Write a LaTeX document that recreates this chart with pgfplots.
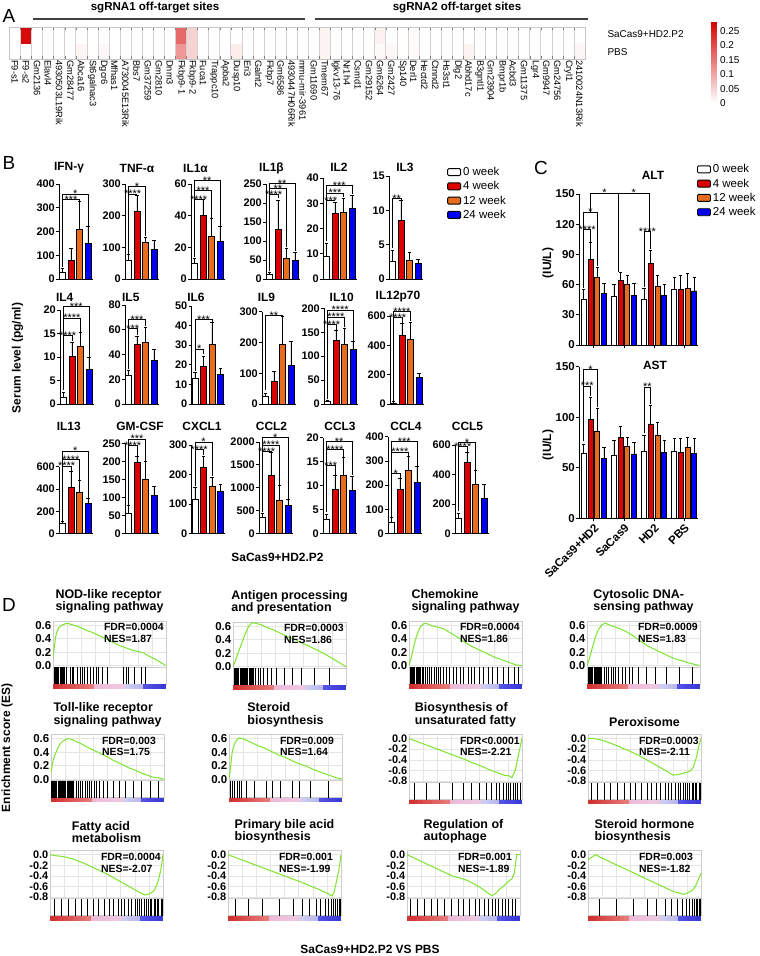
\documentclass[border=0pt]{standalone}
\usepackage{fontspec}
\setmainfont{Liberation Sans}
\usepackage{pgfplots}
\usepackage{pgfplotstable}
\pgfplotsset{compat=1.18}
\definecolor{cR}{RGB}{220,0,0}
\definecolor{cO}{RGB}{232,108,32}
\definecolor{cB}{RGB}{0,0,245}
\definecolor{cG}{RGB}{125,228,45}
\newcommand\fs[1]{\fontsize{#1}{#1}\selectfont}
\pgfplotsset{
 every axis/.append style={/pgf/number format/assume math mode=true,/pgf/number format/set thousands separator={}},
 colormap={rwb}{rgb255(0cm)=(208,45,45) rgb255(3.6cm)=(232,125,125) rgb255(3.8cm)=(236,186,214) rgb255(6.2cm)=(238,200,225) rgb255(6.4cm)=(208,208,242) rgb255(8cm)=(182,182,238) rgb255(8.2cm)=(82,82,228) rgb255(10cm)=(55,55,215)},
 lgimg/.style={legend image code/.code={\draw[##1,line width=0.9bp,rounded corners=1.2bp] (0bp,-3.5bp) rectangle (13bp,3.5bp);}},
 sW/.style={fill=white,draw=black,line width=0.7bp,lgimg},
 sR/.style={fill=cR,draw=black,line width=0.7bp,lgimg},
 sO/.style={fill=cO,draw=black,line width=0.7bp,lgimg},
 sB/.style={fill=cB,draw=black,line width=0.7bp,lgimg},
 errs/.style={error bars/y dir=plus, error bars/y explicit,
   error bars/error bar style={line width=0.7bp,black},
   error bars/error mark options={black,line width=0.7bp,mark size=1.6bp,rotate=90}},
 bax/.style={scale only axis, width=34bp, anchor=south west, ybar, bar width=6bp, bar shift=0pt,
   xmin=-0.41, xmax=3.59, ymin=0, axis x line*=bottom, axis y line*=left,
   axis line style={line width=1bp,-}, xtick=\empty, tick align=outside,
   major tick length=3bp, tick style={black,line width=0.8bp},
   yticklabel style={font=\bfseries\fs{11},inner sep=1bp},
   scaled y ticks=false, clip=false, errs},
 cax/.style={scale only axis, width=119bp, anchor=south west, ybar, bar width=5bp, bar shift=0pt,
   xmin=0, xmax=119, ymin=0, ymax=150, axis x line*=bottom, axis y line*=left,
   axis line style={line width=1bp,-}, xtick={14.85,44.95,75.05,105.15}, tick align=outside,
   major tick length=3bp, tick style={black,line width=0.8bp},
   yticklabel style={font=\bfseries\fs{11.5},inner sep=1bp},
   scaled y ticks=false, clip=false, errs},
 gES/.style={scale only axis, width=113bp, anchor=north west, xmin=0, xmax=100,
   xtick={0,12.5,...,100}, xticklabels={}, major tick length=0pt, grid=major,
   grid style={gray!20,line width=0.4bp}, axis line style={gray!40,line width=0.5bp},
   /pgf/number format/fixed, /pgf/number format/fixed zerofill, /pgf/number format/precision=1,
   yticklabel style={font=\bfseries\fs{11.5},inner sep=1.5bp},
   title style={font=\bfseries\fontsize{12.5}{12.3}\selectfont, align=left, anchor=south, at={(0.5,1)}, inner sep=1.5bp}},
 gpos/.style={height=46bp, ymin=-0.02, ymax=0.66, ytick={0,0.2,0.4,0.6}},
 gneg/.style={height=48bp, ymin=-0.83, ymax=0.075, ytick={-0.8,-0.6,-0.4,-0.2,0}, yticklabel style={font=\bfseries\fs{11}}},
 gHit/.style={scale only axis, width=113bp, height=17bp, anchor=north west, xmin=0, xmax=100, ymin=0, ymax=1,
   xtick=\empty, ytick=\empty, axis line style={gray!40,line width=0.5bp}, clip=false,
   colormap name=rwb, point meta min=0, point meta max=100},
}
\tikzset{ttl/.style={font=\bfseries\fs{12},inner sep=0pt},
 gtxt/.style={anchor=north west, align=left, font=\bfseries\fontsize{10.5}{11.5}\selectfont, inner sep=0pt}}
\newcommand\bb[8]{%
 \addplot[sW] coordinates {(0,#1) +- (0,#2)};
 \addplot[sR] coordinates {(1,#3) +- (0,#4)};
 \addplot[sO] coordinates {(2,#5) +- (0,#6)};
 \addplot[sB] coordinates {(3,#7) +- (0,#8)};}
\newcommand\br[5]{%
 \draw[line width=0.8bp] (axis cs:0,#3) -- (axis cs:0,#2) -- (axis cs:#1,#2) -- (axis cs:#1,#4);
 \node[font=\fs{11}, inner sep=0pt] at (axis cs:#1*0.5,#2) {#5};}
\newcommand\cbr[6]{%
 \draw[line width=0.8bp] (axis cs:#1,#4) -- (axis cs:#1,#3) -- (axis cs:#2,#3) -- (axis cs:#2,#5);
 \node[font=\fs{11}, inner sep=0pt] at (axis cs:#1*0.5+#2*0.5,#3) {#6};}
\pgfplotstableread{
x y
0 -0.15
4 -0.15
8 -0.15
12 -0.15
16 -0.15
20 -0.15
24 -0.15
28 -0.15
32 -0.15
36 -0.15
40 -0.15
44 -0.15
48 -0.15
52 -0.15
56 -0.15
60 -0.15
64 -0.15
68 -0.15
72 -0.15
76 -0.15
80 -0.15
84 -0.15
88 -0.15
92 -0.15
96 -0.15
100 -0.15
}\cbt
\newcommand\gsea[7]{%
\begin{axis}[gES,#5,name=es,at={(#1bp,-#2bp)},title={#3}]
\addplot[cG,line width=1bp] coordinates {#6};
\node[gtxt] at (rel axis cs:0.45,0.95) {#4};
\end{axis}
\begin{axis}[gHit,at={(es.south west)}]
\addplot[ycomb,black,line width=0.45bp,mark=none] coordinates {#7};
\addplot[mesh,point meta=x,line width=4.5bp] table {\cbt};
\end{axis}}
\begin{document}
\begin{tikzpicture}
\path[use as bounding box] (0,0) rectangle (760bp,-956bp);
% panel letters
\node[font=\fs{19}] at (9bp,-15.5bp) {A};
\node[font=\fs{19}] at (9bp,-163bp) {B};
\node[font=\fs{19}] at (541bp,-168bp) {C};
\node[font=\fs{19}] at (9bp,-605bp) {D};
% ---------- A ----------
\node[font=\bfseries\fs{11.6}] at (155bp,-7.5bp) {sgRNA1 off-target sites};
\node[font=\bfseries\fs{11.6}] at (457bp,-7.5bp) {sgRNA2 off-target sites};
\draw[line width=1.3bp,black!75] (33bp,-19bp) -- (305bp,-19bp);
\draw[line width=1.3bp,black!75] (315bp,-19bp) -- (588bp,-19bp);
\begin{axis}[scale only axis, width=575.7bp, height=32bp, at={(9.3bp,-59bp)}, anchor=south west,
 xmin=-0.5, xmax=51.5, ymin=-0.5, ymax=1.5, ytick=\empty, xtick={0,...,51}, major tick length=0pt,
 xticklabels={F9-s1,F9-s2,Gm2136,Elavl4,4930503L19Rik,Gm28477,Abca16,St6galnac3,Dgcr6,Mfhas1,A730045E13Rik,Bbs7,Gm37259,Gm2810,Dnm3,Fkbp9-1,Fkbp9-2,Fuca1,Trappc10,Apba2,Dusp10,Eri3,Galnt2,Fkbp7,Gm6586,4930447H06Rik,mmu-mir-3961,Gm11690,Tmem67,Igkv13-76,Nr1h4,Csmd1,Gm29152,Gm6264,Gm2427,Sp140,Derl1,Hectd2,Ctnnd2,Hs3st1,Dlg2,Abhd17c,B3gntl1,Gm23904,Bmpr1b,Acbd3,Gm11375,Lgr4,Gm9947,Gm24756,Cryl1,2410024N13Rik},
 xticklabel style={rotate=-90, anchor=west, font=\fs{9.3}, inner sep=1bp},
 axis line style={gray!45}, minor xtick={-0.5,0.5,...,51.5}, minor ytick={0.5},
 grid=minor, minor grid style={gray!35,line width=0.5bp}, axis on top,
 colormap={wr}{rgb255=(255,255,255) rgb255=(212,0,0)}, point meta min=0, point meta max=0.285,
 colorbar, colorbar style={at={(parent axis.north east)}, anchor=north west, xshift=118bp, yshift=6bp,
   width=5bp, height=82bp, scale only axis, ymin=0, ymax=0.285,
   ytick={0,0.05,0.1,0.15,0.2,0.25}, yticklabels={0,0.05,0.1,0.15,0.2,0.25},
   yticklabel style={font=\fs{10}}, axis line style={draw=none}, major tick length=0pt}]
\addplot[matrix plot*, mesh/cols=52, point meta=explicit] coordinates {
(0,0) [0] (1,0) [0] (2,0) [0] (3,0) [0] (4,0) [0] (5,0) [0] (6,0) [0.012] (7,0) [0] (8,0) [0.01] (9,0) [0]
(10,0) [0] (11,0) [0] (12,0) [0] (13,0) [0] (14,0) [0] (15,0) [0.115] (16,0) [0.05] (17,0) [0] (18,0) [0] (19,0) [0]
(20,0) [0.02] (21,0) [0] (22,0) [0] (23,0) [0] (24,0) [0] (25,0) [0] (26,0) [0] (27,0) [0] (28,0) [0.012] (29,0) [0]
(30,0) [0] (31,0) [0] (32,0) [0] (33,0) [0.005] (34,0) [0.009] (35,0) [0] (36,0) [0.005] (37,0) [0] (38,0) [0] (39,0) [0]
(40,0) [0] (41,0) [0.012] (42,0) [0] (43,0) [0] (44,0) [0] (45,0) [0] (46,0) [0] (47,0) [0] (48,0) [0] (49,0) [0]
(50,0) [0] (51,0) [0.01]
(0,1) [0] (1,1) [0.27] (2,1) [0] (3,1) [0] (4,1) [0] (5,1) [0] (6,1) [0] (7,1) [0] (8,1) [0] (9,1) [0]
(10,1) [0] (11,1) [0] (12,1) [0] (13,1) [0] (14,1) [0] (15,1) [0.165] (16,1) [0.05] (17,1) [0] (18,1) [0] (19,1) [0]
(20,1) [0] (21,1) [0] (22,1) [0] (23,1) [0] (24,1) [0] (25,1) [0] (26,1) [0] (27,1) [0] (28,1) [0.012] (29,1) [0]
(30,1) [0] (31,1) [0] (32,1) [0] (33,1) [0.014] (34,1) [0] (35,1) [0] (36,1) [0.004] (37,1) [0] (38,1) [0] (39,1) [0]
(40,1) [0] (41,1) [0] (42,1) [0] (43,1) [0] (44,1) [0] (45,1) [0] (46,1) [0] (47,1) [0] (48,1) [0] (49,1) [0]
(50,1) [0] (51,1) [0]
};
\end{axis}
\node[anchor=west,font=\fs{10}] at (604bp,-34bp) {SaCas9+HD2.P2};
\node[anchor=west,font=\fs{10}] at (604bp,-52bp) {PBS};
% ---------- B ----------
\node[ttl] at (69bp,-168bp) {IFN-γ};
\node[ttl] at (137bp,-168bp) {TNF-α};
\node[ttl] at (195.5bp,-168bp) {IL1α};
\node[ttl] at (271.5bp,-168bp) {IL1β};
\node[ttl] at (339bp,-167bp) {IL2};
\node[ttl] at (405bp,-167bp) {IL3};
\node[ttl] at (64.7bp,-297bp) {IL4};
\node[ttl] at (130.8bp,-297bp) {IL5};
\node[ttl] at (196bp,-297bp) {IL6};
\node[ttl] at (266.5bp,-297bp) {IL9};
\node[ttl] at (341.7bp,-297bp) {IL10};
\node[ttl] at (398bp,-297bp) {IL12p70};
\node[ttl] at (68.8bp,-426bp) {IL13};
\node[ttl] at (140bp,-426bp) {GM-CSF};
\node[ttl] at (202bp,-426bp) {CXCL1};
\node[ttl] at (271.5bp,-426bp) {CCL2};
\node[ttl] at (340bp,-426bp) {CCL3};
\node[ttl] at (406bp,-426bp) {CCL4};
\node[ttl] at (467.5bp,-426bp) {CCL5};
\node[ttl,rotate=90] at (17.5bp,-358bp) {Serum level (pg/ml)};
\node[ttl] at (277.5bp,-557bp) {SaCas9+HD2.P2};
% row 1
\begin{axis}[bax,at={(59bp,-279bp)},height=95bp,ymax=400,ytick={0,100,200,300,400}]
\bb{30}{15}{80}{50}{210}{115}{150}{70}
\br{2}{335}{50}{330}{***}\br{3}{358}{50}{225}{*}
\end{axis}
\begin{axis}[bax,at={(125bp,-279bp)},height=95bp,ymax=300,ytick={0,100,200,300}]
\bb{59}{19}{215}{50}{117}{14}{94}{28}
\br{1}{268}{80}{268}{****}\br{2}{292}{80}{135}{*}
\end{axis}
\begin{axis}[bax,at={(191bp,-279bp)},height=95bp,ymax=60,ytick={0,20,40,60}]
\bb{10}{3}{40}{10}{27}{11}{24}{9}
\br{1}{50}{14}{50}{****}\br{2}{56}{14}{38}{***}\br{3}{62}{14}{33}{**}
\end{axis}
\begin{axis}[bax,at={(266bp,-279bp)},height=95bp,ymax=250,ytick={0,50,100,150,200,250}]
\bb{12}{5}{131}{77}{55}{25}{50}{20}
\br{1}{222}{20}{212}{****}\br{2}{238}{20}{85}{**}\br{3}{252}{20}{75}{**}
\end{axis}
\begin{axis}[bax,at={(323bp,-279bp)},height=101bp,ymax=40,ytick={0,10,20,30,40}]
\bb{9}{5}{26}{4.5}{26.5}{5.5}{28}{5}
\br{1}{31}{15}{31}{***}\br{2}{34}{15}{32.5}{***}\br{3}{37}{15}{33.5}{***}
\end{axis}
\begin{axis}[bax,at={(389bp,-279bp)},height=103bp,ymax=15,ytick={0,5,10,15},
 legend style={at={(1.706,1.107)},anchor=north west,draw=none,fill=none,font=\fs{11.5},row sep=0.5bp,inner sep=0pt},
 legend cell align=left, legend entries={0 week,4 week,12 week,24 week}]
\bb{2.5}{1.7}{8.5}{3}{2.7}{1.2}{2.3}{0.5}
\br{1}{11.7}{4.5}{11.5}{**}
\end{axis}
% row 2
\begin{axis}[bax,at={(60bp,-404bp)},height=94bp,ymax=20,ytick={0,5,10,15,20}]
\bb{1.5}{1}{10.2}{3}{12.2}{3}{7.3}{2.7}
\br{1}{14.5}{3}{13.3}{****}\br{2}{18.3}{3}{15.3}{****}\br{3}{20.7}{3}{10}{***}
\end{axis}
\begin{axis}[bax,at={(125bp,-404bp)},height=99bp,ymax=80,ytick={0,20,40,60,80}]
\bb{23}{4}{48}{7}{50}{12}{35}{9}
\br{1}{61}{28}{56}{***}\br{2}{68}{28}{63}{***}
\end{axis}
\begin{axis}[bax,at={(191.5bp,-404bp)},height=98bp,ymax=50,ytick={0,10,20,30,40,50}]
\bb{13}{3}{19}{5.5}{30.5}{11}{15}{3}
\br{1}{28}{17}{25.5}{*}\br{2}{43}{17}{41.5}{***}
\end{axis}
\begin{axis}[bax,at={(262bp,-404bp)},height=92.3bp,ymax=300,ytick={0,100,200,300}]
\bb{25}{10}{74}{32}{194}{90}{127}{76}
\br{2}{288}{45}{285}{**}
\end{axis}
\begin{axis}[bax,at={(324bp,-404bp)},height=95.7bp,ymax=200,ytick={0,50,100,150,200}]
\bb{5}{3}{134}{20}{125}{33}{114}{16}
\br{1}{166}{10}{155}{****}\br{2}{182}{10}{160}{****}\br{3}{196}{10}{132}{****}
\end{axis}
\begin{axis}[bax,at={(390bp,-404bp)},height=88bp,ymax=600,ytick={0,200,400,600}]
\bb{5}{10}{467}{80}{442}{118}{184}{27}
\br{1}{590}{20}{550}{****}\br{2}{630}{20}{565}{****}
\end{axis}
% row 3
\begin{axis}[bax,at={(59bp,-533.5bp)},height=66.8bp,ymax=600,ytick={0,200,400,600}]
\bb{90}{15}{415}{145}{370}{107}{268}{48}
\br{1}{605}{110}{565}{****}\br{2}{665}{110}{480}{****}\br{3}{740}{110}{320}{*}
\end{axis}
\begin{axis}[bax,at={(125bp,-533.5bp)},height=90.2bp,ymax=250,ytick={0,50,100,150,200,250}]
\bb{55}{22}{196}{18}{149}{51}{106}{24}
\br{1}{243}{80}{216}{****}\br{2}{262}{80}{202}{***}
\end{axis}
\begin{axis}[bax,at={(191.5bp,-533.5bp)},height=88.5bp,ymax=300,ytick={0,100,200,300}]
\bb{115}{42}{225}{37}{160}{31}{143}{25}
\br{1}{285}{160}{265}{****}\br{2}{310}{160}{195}{*}
\end{axis}
\begin{axis}[bax,at={(259bp,-533.5bp)},height=91.5bp,ymax=2000,ytick={0,500,1000,1500,2000}]
\bb{350}{100}{1280}{500}{720}{330}{620}{120}
\br{1}{1790}{460}{1780}{****}\br{2}{1930}{460}{1060}{****}\br{3}{2090}{460}{750}{*}
\end{axis}
\begin{axis}[bax,at={(323bp,-533.5bp)},height=95.8bp,ymax=20,ytick={0,5,10,15,20}]
\bb{3}{1}{9.3}{2.8}{12.2}{3.7}{9}{3}
\br{1}{14.2}{4.5}{12.3}{***}\br{2}{17.5}{4.5}{16}{****}\br{3}{19.2}{4.5}{12.2}{**}
\end{axis}
\begin{axis}[bax,at={(388bp,-533.5bp)},height=96.8bp,ymax=400,ytick={0,100,200,300,400}]
\bb{45}{20}{182}{45}{260}{60}{213}{65}
\br{1}{248}{70}{230}{*}\br{2}{337}{70}{322}{****}\br{3}{380}{70}{280}{***}
\end{axis}
\begin{axis}[bax,at={(455bp,-533.5bp)},height=88.5bp,ymax=600,ytick={0,200,400,600}]
\bb{100}{40}{485}{68}{332}{96}{241}{89}
\br{1}{588}{150}{555}{****}\br{2}{618}{150}{430}{*}
\end{axis}
% ---------- C ----------
\node[ttl] at (653bp,-175bp) {ALT};
\node[ttl] at (655bp,-365bp) {AST};
\node[ttl,rotate=90] at (548bp,-263bp) {(IU/L)};
\node[ttl,rotate=90] at (548bp,-445bp) {(IU/L)};
\begin{axis}[cax,at={(579bp,-345bp)},height=151bp,ytick={0,30,60,90,120,150},xticklabels={},
 legend style={at={(0.99,1.21)},anchor=north west,draw=none,fill=none,font=\fs{11.5},row sep=0.5bp,inner sep=0pt},
 legend cell align=left, legend entries={0 week,4 week,12 week,24 week}]
\addplot[sW] coordinates {(4.8,45.7) +- (0,9.3) (34.9,48) +- (0,12) (65,45.7) +- (0,10.3) (95.1,55.7) +- (0,12)};
\addplot[sR] coordinates {(11.5,85) +- (0,16.6) (41.6,64) +- (0,8) (71.7,80.7) +- (0,13.3) (101.8,55) +- (0,14)};
\addplot[sO] coordinates {(18.2,67) +- (0,10) (48.3,60) +- (0,9) (78.4,58) +- (0,11) (108.5,56.3) +- (0,14.4)};
\addplot[sB] coordinates {(24.9,51.4) +- (0,10) (55,49) +- (0,12) (85.1,49) +- (0,11) (115.2,53.7) +- (0,14)};
\cbr{4.8}{11.5}{115}{57}{102}{****}
\cbr{4.8}{18.2}{132}{115}{78}{*}
\cbr{11.5}{39.3}{151}{132}{73}{*}
\cbr{39.3}{70}{151}{151}{113}{*}
\cbr{65}{71.7}{113}{58}{95}{****}
\end{axis}
\begin{axis}[cax,at={(579bp,-518.3bp)},height=151.6bp,ytick={0,50,100,150},
 xticklabels={SaCas9+HD2,SaCas9,HD2,PBS},
 xticklabel style={rotate=45,anchor=north east,font=\bfseries\fs{11.5},inner sep=1bp}]
\addplot[sW] coordinates {(4.8,64.3) +- (0,9.2) (34.9,62.7) +- (0,14.3) (65,66.6) +- (0,15.4) (95.1,66) +- (0,13)};
\addplot[sR] coordinates {(11.5,98) +- (0,22) (41.6,80) +- (0,11.4) (71.7,93.4) +- (0,18.6) (101.8,65.3) +- (0,13.7)};
\addplot[sO] coordinates {(18.2,86.4) +- (0,22.6) (48.3,71) +- (0,9) (78.4,81.7) +- (0,12.9) (108.5,70) +- (0,10)};
\addplot[sB] coordinates {(24.9,59.4) +- (0,10.6) (55,63.7) +- (0,11.3) (85.1,65.3) +- (0,12.3) (115.2,64.3) +- (0,15.2)};
\cbr{4.8}{11.5}{131}{76}{121}{***}
\cbr{4.8}{18.2}{147}{131}{110}{*}
\cbr{65}{71.7}{130}{84}{113}{**}
\end{axis}
% ---------- D ----------
\node[ttl,rotate=90] at (7bp,-748bp) {Enrichment score (ES)};
\node[ttl] at (370bp,-949bp) {SaCas9+HD2.P2 VS PBS};
\gsea{53}{621}{NOD-like receptor\\signaling pathway}{FDR=0.0004\\NES=1.87}{gpos}
{(0,0.12)(1,0.25)(2,0.38)(3,0.48)(5,0.56)(8,0.6)(11,0.62)(14,0.62)(18,0.6)(22,0.58)(26,0.55)(30,0.52)(35,0.49)(40,0.45)(45,0.41)(50,0.37)(55,0.33)(60,0.29)(65,0.26)(70,0.23)(75,0.21)(80,0.19)(85,0.14)(90,0.1)(95,0.05)(100,0)}
{(1,1)(2,1)(3,1)(4,1)(5,1)(6,1)(7,1)(8,1)(9,1)(10,1)(12,1)(15,1)(17,1)(18,1)(21,1)(24,1)(26,1)(28,1)(30,1)(33,1)(36,1)(38,1)(40,1)(44,1)(48,1)(62,1)(65,1)(67,1)(72,1)(78,1)(82,1)}
\gsea{233}{622}{Antigen processing\\and presentation}{FDR=0.0003\\NES=1.86}{gpos}
{(0,0)(2,0.08)(4,0.18)(6,0.27)(8,0.36)(10,0.45)(12,0.53)(14,0.6)(17,0.65)(20,0.64)(25,0.62)(30,0.58)(35,0.55)(40,0.51)(45,0.47)(50,0.43)(55,0.4)(60,0.36)(65,0.32)(70,0.28)(75,0.24)(80,0.2)(85,0.15)(90,0.1)(95,0.05)(100,0)}
{(1,1)(2,1)(3,1)(4,1)(5,1)(6,1)(7,1)(8,1)(9,1)(10,1)(11,1)(12,1)(13,1)(14,1)(15,1)(16,1)(17,1)(18,1)(20,1)(22,1)(24,1)(27,1)(30,1)(34,1)(38,1)(45,1)(52,1)(60,1)(72,1)(85,1)}
\gsea{409}{621}{Chemokine\\signaling pathway}{FDR=0.0004\\NES=1.86}{gpos}
{(0,0)(2,0.12)(4,0.27)(6,0.4)(8,0.5)(10,0.57)(13,0.62)(16,0.62)(20,0.59)(25,0.57)(30,0.55)(35,0.5)(40,0.45)(45,0.4)(50,0.34)(55,0.29)(60,0.25)(65,0.21)(70,0.17)(75,0.13)(80,0.1)(85,0.07)(90,0.04)(95,0.01)(100,0)}
{(1,1)(2,1)(3,1)(4,1)(5,1)(6,1)(7,1)(8,1)(9,1)(10,1)(12,1)(13,1)(14,1)(16,1)(18,1)(20,1)(22,1)(24,1)(26,1)(28,1)(30,1)(33,1)(36,1)(39,1)(42,1)(45,1)(48,1)(52,1)(55,1)(58,1)(62,1)(66,1)(70,1)(74,1)(78,1)(83,1)(88,1)(93,1)(97,1)}
\gsea{587}{621}{Cytosolic DNA-\\sensing pathway}{FDR=0.0009\\NES=1.83}{gpos}
{(0,0)(2,0.1)(4,0.22)(6,0.34)(8,0.45)(10,0.53)(13,0.6)(16,0.63)(20,0.6)(25,0.57)(30,0.54)(35,0.5)(40,0.45)(45,0.39)(50,0.33)(55,0.28)(60,0.24)(65,0.2)(70,0.16)(75,0.12)(80,0.09)(85,0.07)(90,0.04)(95,0.02)(100,0)}
{(1,1)(2,1)(3,1)(4,1)(5,1)(6,1)(7,1)(8,1)(9,1)(10,1)(11,1)(12,1)(13,1)(15,1)(17,1)(19,1)(21,1)(23,1)(25,1)(28,1)(31,1)(34,1)(37,1)(40,1)(45,1)(52,1)(60,1)(70,1)(82,1)(93,1)}
\gsea{51}{734.5}{Toll-like receptor\\signaling pathway}{FDR=0.003\\NES=1.75}{gpos}
{(0,0.1)(1,0.2)(2,0.28)(4,0.38)(6,0.46)(8,0.52)(11,0.57)(15,0.6)(18,0.59)(22,0.56)(26,0.53)(30,0.49)(35,0.45)(40,0.41)(45,0.37)(50,0.33)(55,0.28)(60,0.24)(65,0.2)(70,0.16)(75,0.13)(80,0.09)(85,0.06)(90,0.03)(95,0.02)(100,0)}
{(0.5,1)(1,1)(1.5,1)(2,1)(3,1)(4,1)(5,1)(6,1)(7,1)(8,1)(9,1)(10,1)(11,1)(12,1)(13,1)(14,1)(15,1)(16,1)(17,1)(18,1)(19,1)(20,1)(22,1)(24,1)(26,1)(28,1)(30,1)(32,1)(34,1)(36,1)(38,1)(40,1)(43,1)(46,1)(50,1)(55,1)(60,1)(66,1)(73,1)(80,1)(88,1)(95,1)}
\gsea{229}{734.5}{Steroid\\biosynthesis}{FDR=0.009\\NES=1.64}{gpos}
{(0,0)(1,0.12)(2,0.28)(3,0.42)(5,0.53)(7,0.58)(9,0.61)(12,0.6)(16,0.57)(20,0.54)(25,0.5)(30,0.47)(35,0.43)(40,0.39)(45,0.35)(50,0.32)(55,0.28)(60,0.24)(65,0.21)(70,0.18)(75,0.14)(80,0.11)(85,0.08)(90,0.05)(95,0.02)(100,0)}
{(1,1)(3,1)(5,1)(7,1)(9,1)(11,1)(15,1)(22,1)(33,1)(38,1)(45,1)(56,1)(62,1)(72,1)(88,1)}
\gsea{409}{734.5}{Biosynthesis of\\unsaturated fatty}{FDR<0.0001\\NES=-2.21}{gneg}
{(0,0)(5,-0.04)(10,-0.08)(15,-0.12)(20,-0.16)(25,-0.2)(30,-0.24)(35,-0.28)(40,-0.32)(45,-0.36)(50,-0.4)(55,-0.45)(60,-0.49)(65,-0.53)(70,-0.58)(75,-0.62)(80,-0.66)(85,-0.7)(88,-0.7)(91,-0.74)(94,-0.6)(97,-0.3)(100,0)}
{(5,1)(15,1)(27,1)(38,1)(48,1)(55,1)(62,1)(68,1)(73,1)(77,1)(80,1)(83,1)(86,1)(88,1)(90,1)(92,1)(94,1)(96,1)(98,1)}
\gsea{588}{734.5}{Peroxisome}{FDR=0.0003\\NES=-2.11}{gneg}
{(0,0)(5,0)(10,-0.02)(15,-0.05)(20,-0.09)(25,-0.13)(30,-0.18)(35,-0.22)(40,-0.27)(45,-0.32)(50,-0.38)(55,-0.44)(60,-0.5)(65,-0.56)(70,-0.62)(75,-0.69)(80,-0.68)(85,-0.65)(90,-0.62)(93,-0.55)(96,-0.35)(98,-0.15)(100,0)}
{(3,1)(8,1)(14,1)(20,1)(26,1)(32,1)(37,1)(42,1)(47,1)(52,1)(56,1)(60,1)(64,1)(68,1)(71,1)(74,1)(77,1)(80,1)(82,1)(84,1)(86,1)(88,1)(90,1)(92,1)(93,1)(95,1)(96,1)(98,1)(99,1)}
\gsea{50}{850.7}{Fatty acid\\metabolism}{FDR=0.0004\\NES=-2.07}{gneg}
{(0,0)(5,-0.02)(10,-0.03)(15,-0.05)(20,-0.08)(25,-0.12)(30,-0.16)(35,-0.21)(40,-0.26)(45,-0.31)(50,-0.36)(55,-0.42)(60,-0.48)(65,-0.54)(70,-0.6)(75,-0.66)(80,-0.72)(84,-0.76)(88,-0.74)(92,-0.68)(95,-0.55)(98,-0.3)(100,0)}
{(4,1)(10,1)(16,1)(22,1)(28,1)(33,1)(38,1)(43,1)(48,1)(52,1)(56,1)(60,1)(63,1)(66,1)(69,1)(72,1)(75,1)(77,1)(79,1)(81,1)(83,1)(85,1)(87,1)(89,1)(90,1)(92,1)(93,1)(95,1)(96,1)(98,1)(99,1)}
\gsea{228}{850.7}{Primary bile acid\\biosynthesis}{FDR=0.001\\NES=-1.99}{gneg}
{(0,0)(5,-0.04)(10,-0.08)(15,-0.12)(20,-0.16)(25,-0.2)(30,-0.24)(35,-0.28)(40,-0.32)(45,-0.36)(50,-0.4)(55,-0.44)(60,-0.48)(65,-0.52)(70,-0.56)(75,-0.61)(80,-0.65)(85,-0.7)(89,-0.74)(92,-0.78)(94,-0.7)(96,-0.5)(98,-0.3)(100,0)}
{(6,1)(18,1)(30,1)(45,1)(58,1)(66,1)(72,1)(78,1)(82,1)(86,1)(89,1)(91,1)(93,1)(95,1)(97,1)(98,1)(99,1)}
\gsea{407}{850.7}{Regulation of\\autophage}{FDR=0.001\\NES=-1.89}{gneg}
{(0,0)(5,-0.05)(10,-0.1)(15,-0.15)(20,-0.2)(25,-0.25)(30,-0.3)(35,-0.35)(40,-0.4)(45,-0.43)(50,-0.46)(55,-0.5)(60,-0.56)(65,-0.62)(70,-0.7)(75,-0.77)(78,-0.74)(82,-0.65)(86,-0.58)(90,-0.5)(93,-0.45)(95,-0.35)(97,0)(100,0)}
{(3,1)(9,1)(15,1)(21,1)(27,1)(33,1)(39,1)(45,1)(50,1)(55,1)(60,1)(64,1)(68,1)(72,1)(75,1)(78,1)(81,1)(84,1)(87,1)(90,1)(93,1)(96,1)}
\gsea{588}{850.7}{Steroid hormone\\biosynthesis}{FDR=0.003\\NES=-1.82}{gneg}
{(0,-0.1)(3,-0.05)(7,0)(10,-0.04)(15,-0.09)(20,-0.14)(25,-0.19)(30,-0.24)(35,-0.29)(40,-0.34)(45,-0.39)(50,-0.44)(55,-0.49)(60,-0.54)(65,-0.59)(70,-0.64)(75,-0.69)(80,-0.72)(85,-0.75)(88,-0.72)(92,-0.68)(95,-0.6)(98,-0.45)(100,-0.35)}
{(10,1)(25,1)(40,1)(52,1)(60,1)(68,1)(74,1)(79,1)(83,1)(87,1)(90,1)(92,1)(94,1)(96,1)(97,1)(98,1)(99,1)}
\end{tikzpicture}
\end{document}
